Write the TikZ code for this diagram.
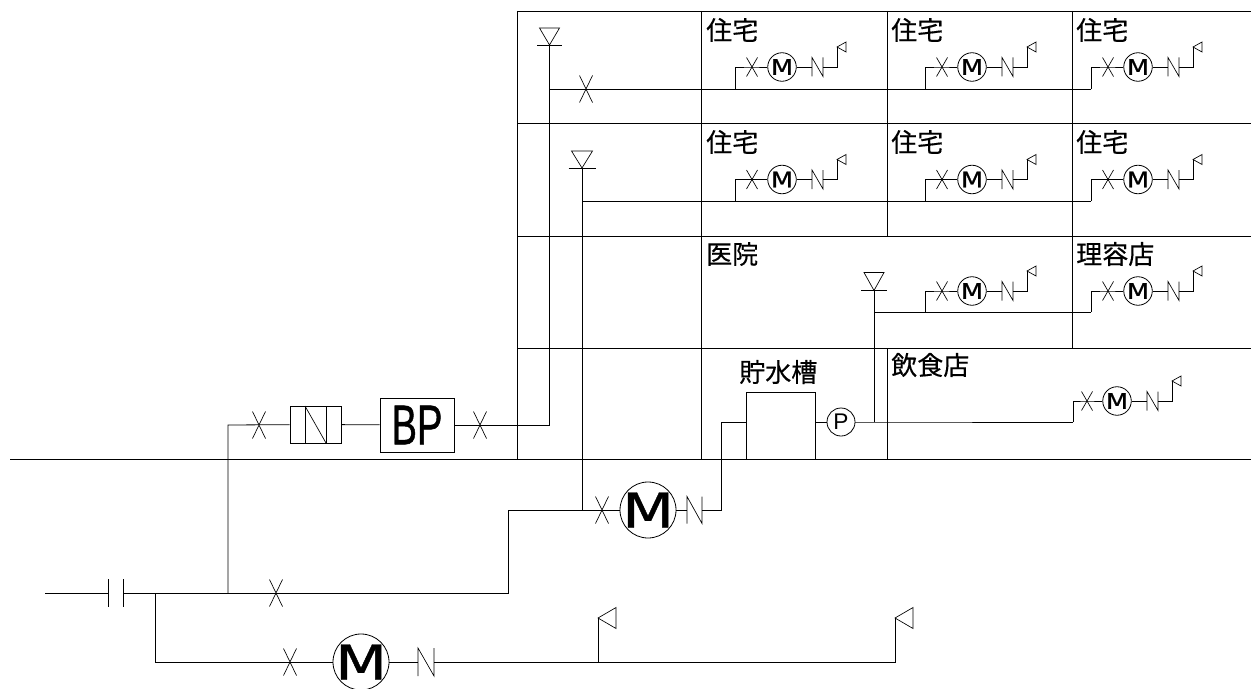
\documentclass[tikz,border=0pt]{standalone}
\usepackage{fontspec}
\usepackage{graphicx}
\newfontfamily\jpf[FakeBold=0.4]{Noto Sans CJK JP}
\newfontfamily\dvf[FakeBold=0.8]{DejaVu Sans}
\newfontfamily\dvs[FakeBold=0.6]{DejaVu Sans}
\newfontfamily\lbf{Liberation Sans}
\newfontfamily\lbb[FakeBold=1.0]{Liberation Sans}
\newcommand\wideM[1]{\makebox[0pt]{\scalebox{#1}[1]{M}}}
\tikzset{
  pipe/.style={line width=0.6pt,line join=miter},
  thin part/.style={line width=0.5pt},
  smallmeter/.style={circle,draw,line width=0.6pt,minimum size=21.4pt,inner sep=0pt,font=\dvs\fontsize{16}{16}\selectfont},
  bigmeter/.style={circle,draw,line width=0.6pt,minimum size=42pt,inner sep=0pt,font=\dvf\fontsize{36}{36}\selectfont},
  pump/.style={circle,draw,line width=0.6pt,minimum size=21pt,inner sep=0pt,font=\lbf\fontsize{17}{17}\selectfont},
  room/.style={anchor=west,inner sep=0pt,font=\jpf\fontsize{19.5}{19.5}\selectfont},
  boxshape/.style={draw,line width=0.6pt,inner sep=0pt},
}
% X valve: name, x, y, half width, half height
\newcommand\vlvx[5]{%
  \coordinate (#1) at (#2,#3);
  \draw[thin part] (#2-#4,#3-#5) -- (#2+#4,#3+#5) (#2+#4,#3-#5) -- (#2-#4,#3+#5);
}
% check valve N: name, left x, right x, y, half height
\newcommand\vlvn[5]{%
  \coordinate (#1l) at (#2,#4);
  \coordinate (#1r) at (#3,#4);
  \draw[thin part] (#2,#4+#5) -- (#2,#4-#5) -- (#3,#4+#5) -- (#3,#4-#5);
}
% tap: name, x, y, width, half height
\newcommand\flagtip[5]{%
  \coordinate (#1) at (#2,#3);
  \draw[thin part] (#1) -- (#2+#4,#3-#5) -- (#2+#4,#3+#5) -- cycle;
}
% roof tank symbol: name, x, bar y, half width, height, bar half width
\newcommand\tanksym[6]{%
  \coordinate (#1) at (#2,#3);
  \draw[thin part] (#1) -- (#2-#4,#3-#5) -- (#2+#4,#3-#5) -- cycle;
  \draw[thin part] (#2-#6,#3) -- (#2+#6,#3);
}
% household unit: name, origin x, branch x, unit y, main pipe y
\newcommand\householdunit[5]{%
  \coordinate (#1t) at (#3,#5);
  \coordinate (#1b) at (#3,#4);
  \vlvx{#1x}{#2+17}{#4}{5.5}{9.5}
  \node[smallmeter] (#1m) at (#2+47,#4) {\wideM{1.2}};
  \vlvn{#1n}{#2+77}{#2+88}{#4}{9.5}
  \coordinate (#1c) at (#2+102,#4);
  \flagtip{#1f}{#2+102}{#4-20}{9}{5}
  \draw[pipe] (#1t) -- (#1b) -- (#1x) -- (#1m);
  \draw[pipe] (#1m) -- (#1nl) (#1nr) -- (#1c) -- (#1f);
}
\begin{document}
\begin{tikzpicture}[x=0.75pt,y=-0.75pt]
\useasboundingbox (0,0) rectangle (1251,688);
% ground and building grid
\coordinate (g0) at (10,459); \coordinate (g1) at (1251,459);
\draw[pipe] (g0) -- (g1);
\foreach \yy in {11,123.5,236,348} \draw[pipe] (517,\yy) -- (1251,\yy);
\draw[pipe] (517,11) -- (517,459);
\draw[pipe] (701.5,11) -- (701.5,459);
\draw[pipe] (887,11) -- (887,236);
\draw[pipe] (887,348) -- (887,459);
\draw[pipe] (1072,11) -- (1072,348);
% labels
\foreach \xx/\nn in {706/a,891/b,1076/c}{
  \node[room] (r1\nn) at (\xx,30) {住宅};
  \node[room] (r2\nn) at (\xx,142) {住宅};
}
\node[room] (clinic) at (706,254) {医院};
\node[room] (barber) at (1076,254) {理容店};
\node[room] (diner) at (891,365) {飲食店};
\node[room] (tanklabel) at (739,372) {貯水槽};
% risers
\tanksym{ta}{549.5}{45}{10}{17}{12.5}
\tanksym{tb}{582}{168}{10.5}{17}{13.5}
\tanksym{tc}{874}{290.5}{10}{18}{13}
% supply rows
\coordinate (ra) at (549.5,89); \coordinate (rae) at (1091,89);
\coordinate (rb) at (582,201); \coordinate (rbe) at (1091,201);
\coordinate (rc) at (874,312); \coordinate (rce) at (1091,312);
\draw[pipe] (ra) -- (rae);
\draw[pipe] (rb) -- (rbe);
\draw[pipe] (rc) -- (rce);
\vlvx{va}{586}{89}{6.5}{13.5}
\householdunit{ua}{735}{735}{67}{89}
\householdunit{ub}{925}{925}{67}{89}
\householdunit{uc}{1091}{1091}{67}{89}
\householdunit{ud}{735}{735}{179.5}{201}
\householdunit{ue}{925}{925}{179.5}{201}
\householdunit{uf}{1091}{1091}{179.5}{201}
\householdunit{ug}{925}{925}{291}{312}
\householdunit{uh}{1091}{1091}{291}{312}
\householdunit{ui}{1070}{1073}{401}{422}
% booster line
\coordinate (main0) at (45,593);
\coordinate (main1) at (108,593);
\coordinate (main2) at (123,593);
\coordinate (jA) at (155,593);
\coordinate (jB) at (228,593);
\coordinate (jBu) at (228,425);
\coordinate (m1a) at (508,593);
\coordinate (m1b) at (508,510);
\coordinate (jC) at (582,510);
\draw[pipe] (main0) -- (main1);
\draw[pipe] (108,579) -- (108,607);
\draw[pipe] (123,579) -- (123,607);
\draw[pipe] (main2) -- (m1a) -- (m1b) -- (jC);
\vlvx{vb}{276}{593}{6.5}{13.5}
\vlvx{vc}{259}{425}{6.5}{13.5}
\node[boxshape,minimum width=38.25pt,minimum height=27.75pt] (rpz) at (315.5,424.5) {};
\draw[thin part] (305,406) -- (305,443) (326,406) -- (326,443);
\draw[thin part] (305,406) -- (326,443);
\node[boxshape,minimum width=55.5pt,minimum height=40.5pt,font=\lbb\fontsize{42}{42}\selectfont] (bp) at (417,425) {\scalebox{0.68}[1]{BP}};
\vlvx{vd}{480}{425}{6.5}{13.5}
\coordinate (re) at (549.5,425);
\draw[pipe] (jB) -- (jBu) -- (rpz);
\draw[pipe] (rpz) -- (bp);
\draw[pipe] (bp) -- (re) -- (ta);
\draw[pipe] (jC) -- (tb);
% meter 1 with storage tank
\vlvx{ve}{602}{510}{6.5}{13.5}
\node[bigmeter] (mm) at (648,510) {\wideM{1.25}};
\vlvn{nm}{687}{702}{510}{13.5}
\coordinate (tk1) at (721,510);
\coordinate (tk2) at (721,422);
\draw[pipe] (jC) -- (mm);
\draw[pipe] (mm) -- (nml);
\draw[pipe] (nmr) -- (tk1) -- (tk2) -- (746,422);
\draw[pipe] (746,459) -- (746,392) -- (815,392) -- (815,459);
\node[pump] (pp) at (841,422) {P};
\draw[pipe] (815,422) -- (pp);
\coordinate (jD) at (874,422);
\draw[pipe] (pp) -- (jD) -- (uit);
\draw[pipe] (jD) -- (tc);
% lower branch
\coordinate (low1) at (155,662);
\vlvx{vf}{290}{662}{6.5}{13.5}
\node[bigmeter] (ml) at (361,662) {\wideM{1.25}};
\vlvn{nl}{418}{434}{662}{14}
\coordinate (fa) at (598,662);
\coordinate (fb) at (895,662);
\flagtip{fat}{598}{618}{18}{10.5}
\flagtip{fbt}{895}{618}{18}{10.5}
\draw[pipe] (jA) -- (low1) -- (ml);
\draw[pipe] (ml) -- (nll);
\draw[pipe] (nlr) -- (fb) -- (fbt);
\draw[pipe] (fa) -- (fat);
\end{tikzpicture}
\end{document}
